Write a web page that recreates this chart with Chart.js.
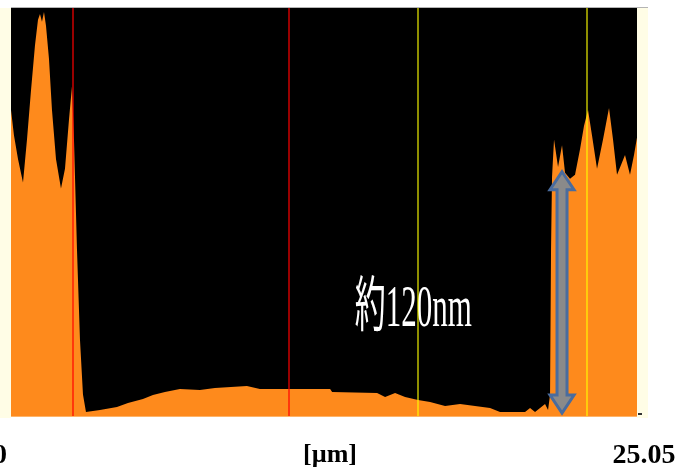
<!DOCTYPE html>
<html>
<head>
<meta charset="utf-8">
<script src="https://cdn.jsdelivr.net/npm/chart.js@4"></script>
<style>
  html, body { margin: 0; padding: 0; background: #fff; }
  canvas { display: block; }
</style>
</head>
<body>
<canvas id="profile" width="678" height="470"></canvas>
<script>
// profile: position [µm] and height [nm]
const positions = [0, 0.12, 0.28, 0.48, 0.64, 0.80, 0.96, 1.08, 1.16, 1.24, 1.32, 1.40, 1.52, 1.64, 1.80,
    2.00, 2.16, 2.32, 2.44, 2.52, 2.64, 2.76, 2.88, 3.00, 3.56, 4.24, 4.68, 5.28, 5.68, 6.16, 6.76,
    7.56, 8.16, 9.44, 9.96, 11.12, 12.77, 12.85, 14.65, 14.97, 15.37, 15.77, 16.29, 16.77, 17.37,
    17.97, 18.57, 19.17, 19.57, 20.57, 20.77, 20.97, 21.37, 21.49, 21.57, 21.61, 21.65, 21.73,
    21.89, 22.05, 22.17, 22.37, 22.57, 22.77, 22.93, 23.09, 23.25, 23.45, 23.69, 23.93, 24.09,
    24.25, 24.41, 24.57, 24.77, 24.93, 25.05];
const heights = [156, 143, 131, 119, 141, 166, 189, 202, 205, 201, 206, 199, 182, 156, 131,
    116, 126, 151, 168, 141, 85, 39, 11, 2, 3.1, 4.6, 6.6, 8.7, 10.7, 12.2, 13.8,
    13.3, 14.3, 15.3, 13.8, 13.8, 13.8, 12.2, 11.7, 9.7, 11.7, 9.7, 8.2, 7.1, 5.1,
    6.1, 5.1, 4.1, 2.0, 2.0, 4.1, 2.0, 6.1, 3.1, 10.7, 85, 122, 141,
    127, 138, 124, 121, 123, 136, 148, 156, 143, 126, 141, 157, 141,
    123, 128, 133, 123, 133, 142];

const xRange = [0, 25.05];
const yRange = [0, 208];
const xTickLabels = ['0', '[µm]', '25.05'];

// cursor lines
const redCursors = [2.48, 11.12];
const yellowCursors = [16.29, 23.05];

// step height marker
const arrowX = 22.05;
const arrowFrom = 1.5;
const arrowTo = 124.5;
const stepLabel = '約120nm';
const stepLabelAt = [13.76, 46];

const orange = '#FE8A1C';

const backdrop = {
    id: 'backdrop',
    beforeDraw(chart) {
        const { ctx, chartArea: a } = chart;
        ctx.save();
        ctx.fillStyle = '#FFFDE6';
        ctx.fillRect(0, a.top, a.left, a.bottom - a.top + 2);
        ctx.fillRect(a.right, a.top, 11, a.bottom - a.top + 2);
        ctx.fillStyle = '#000';
        ctx.fillRect(a.left, a.top, a.right - a.left, a.bottom - a.top);
        ctx.fillStyle = '#B4B4B4';
        ctx.fillRect(a.left, a.top - 1, a.right - a.left + 11, 1);
        ctx.restore();
    }
};

const overlay = {
    id: 'overlay',
    afterDatasetsDraw(chart) {
        const { ctx, chartArea: a, scales: { x, y } } = chart;
        ctx.save();

        // double arrow
        const ax = x.getPixelForValue(arrowX);
        const y1 = y.getPixelForValue(arrowTo);
        const y2 = y.getPixelForValue(arrowFrom);
        const sw = 5, hw = 12, hl = 18;
        ctx.beginPath();
        ctx.moveTo(ax, y1);
        ctx.lineTo(ax + hw, y1 + hl);
        ctx.lineTo(ax + sw, y1 + hl);
        ctx.lineTo(ax + sw, y2 - hl);
        ctx.lineTo(ax + hw, y2 - hl);
        ctx.lineTo(ax, y2);
        ctx.lineTo(ax - hw, y2 - hl);
        ctx.lineTo(ax - sw, y2 - hl);
        ctx.lineTo(ax - sw, y1 + hl);
        ctx.lineTo(ax - hw, y1 + hl);
        ctx.closePath();
        ctx.fillStyle = '#8A8A8A';
        ctx.fill();
        ctx.strokeStyle = '#4A6C9E';
        ctx.lineWidth = 3;
        ctx.lineJoin = 'miter';
        ctx.stroke();

        // step label, narrow serif
        ctx.font = '60px "Liberation Serif", "Noto Sans CJK JP", serif';
        ctx.fillStyle = '#fff';
        ctx.textBaseline = 'alphabetic';
        const w = ctx.measureText(stepLabel).width;
        const sx = 117 / w;
        ctx.translate(x.getPixelForValue(stepLabelAt[0]), y.getPixelForValue(stepLabelAt[1]));
        ctx.scale(sx, 1);
        ctx.fillText(stepLabel, 0, 0);
        ctx.setTransform(1, 0, 0, 1, 0, 0);

        // cursors
        ctx.lineWidth = 2;
        ctx.strokeStyle = 'rgba(255,0,0,0.6)';
        redCursors.forEach(v => {
            const px = Math.round(x.getPixelForValue(v));
            ctx.beginPath();
            ctx.moveTo(px, a.top);
            ctx.lineTo(px, a.bottom);
            ctx.stroke();
        });
        ctx.strokeStyle = 'rgba(255,255,0,0.56)';
        yellowCursors.forEach(v => {
            const px = Math.round(x.getPixelForValue(v));
            ctx.beginPath();
            ctx.moveTo(px, a.top);
            ctx.lineTo(px, a.bottom);
            ctx.stroke();
        });

        // light rim at the bottom of the plot
        ctx.fillStyle = '#FFB468';
        ctx.fillRect(a.left, a.bottom, a.right - a.left, 1);
        ctx.fillStyle = '#333';
        ctx.fillRect(a.right + 1, a.bottom - 3, 4, 2);

        // axis labels
        ctx.fillStyle = '#000';
        ctx.font = 'bold 28px "Liberation Serif", serif';
        ctx.textAlign = 'center';
        ctx.fillText(xTickLabels[0], x.getPixelForValue(xRange[0]) - 11, a.bottom + 47);
        ctx.font = 'bold 26px "Liberation Serif", serif';
        ctx.fillText(xTickLabels[1], (a.left + a.right) / 2 + 6, a.bottom + 46);
        ctx.font = 'bold 28px "Liberation Serif", serif';
        ctx.fillText(xTickLabels[2], x.getPixelForValue(xRange[1]) + 7, a.bottom + 47);
        ctx.restore();
    }
};

new Chart(document.getElementById('profile'), {
    type: 'line',
    data: {
        datasets: [{
            data: positions.map((p, i) => ({ x: p, y: heights[i] })),
            borderWidth: 0,
            borderColor: orange,
            backgroundColor: orange,
            pointRadius: 0,
            fill: 'origin',
            tension: 0
        }]
    },
    options: {
        responsive: false,
        animation: false,
        devicePixelRatio: 1,
        layout: { padding: { left: 11, right: 41, top: 8, bottom: 54 } },
        plugins: { legend: { display: false }, tooltip: { enabled: false } },
        scales: {
            x: { type: 'linear', min: xRange[0], max: xRange[1], display: false },
            y: { min: yRange[0], max: yRange[1], display: false }
        }
    },
    plugins: [backdrop, overlay]
});
</script>
</body>
</html>
